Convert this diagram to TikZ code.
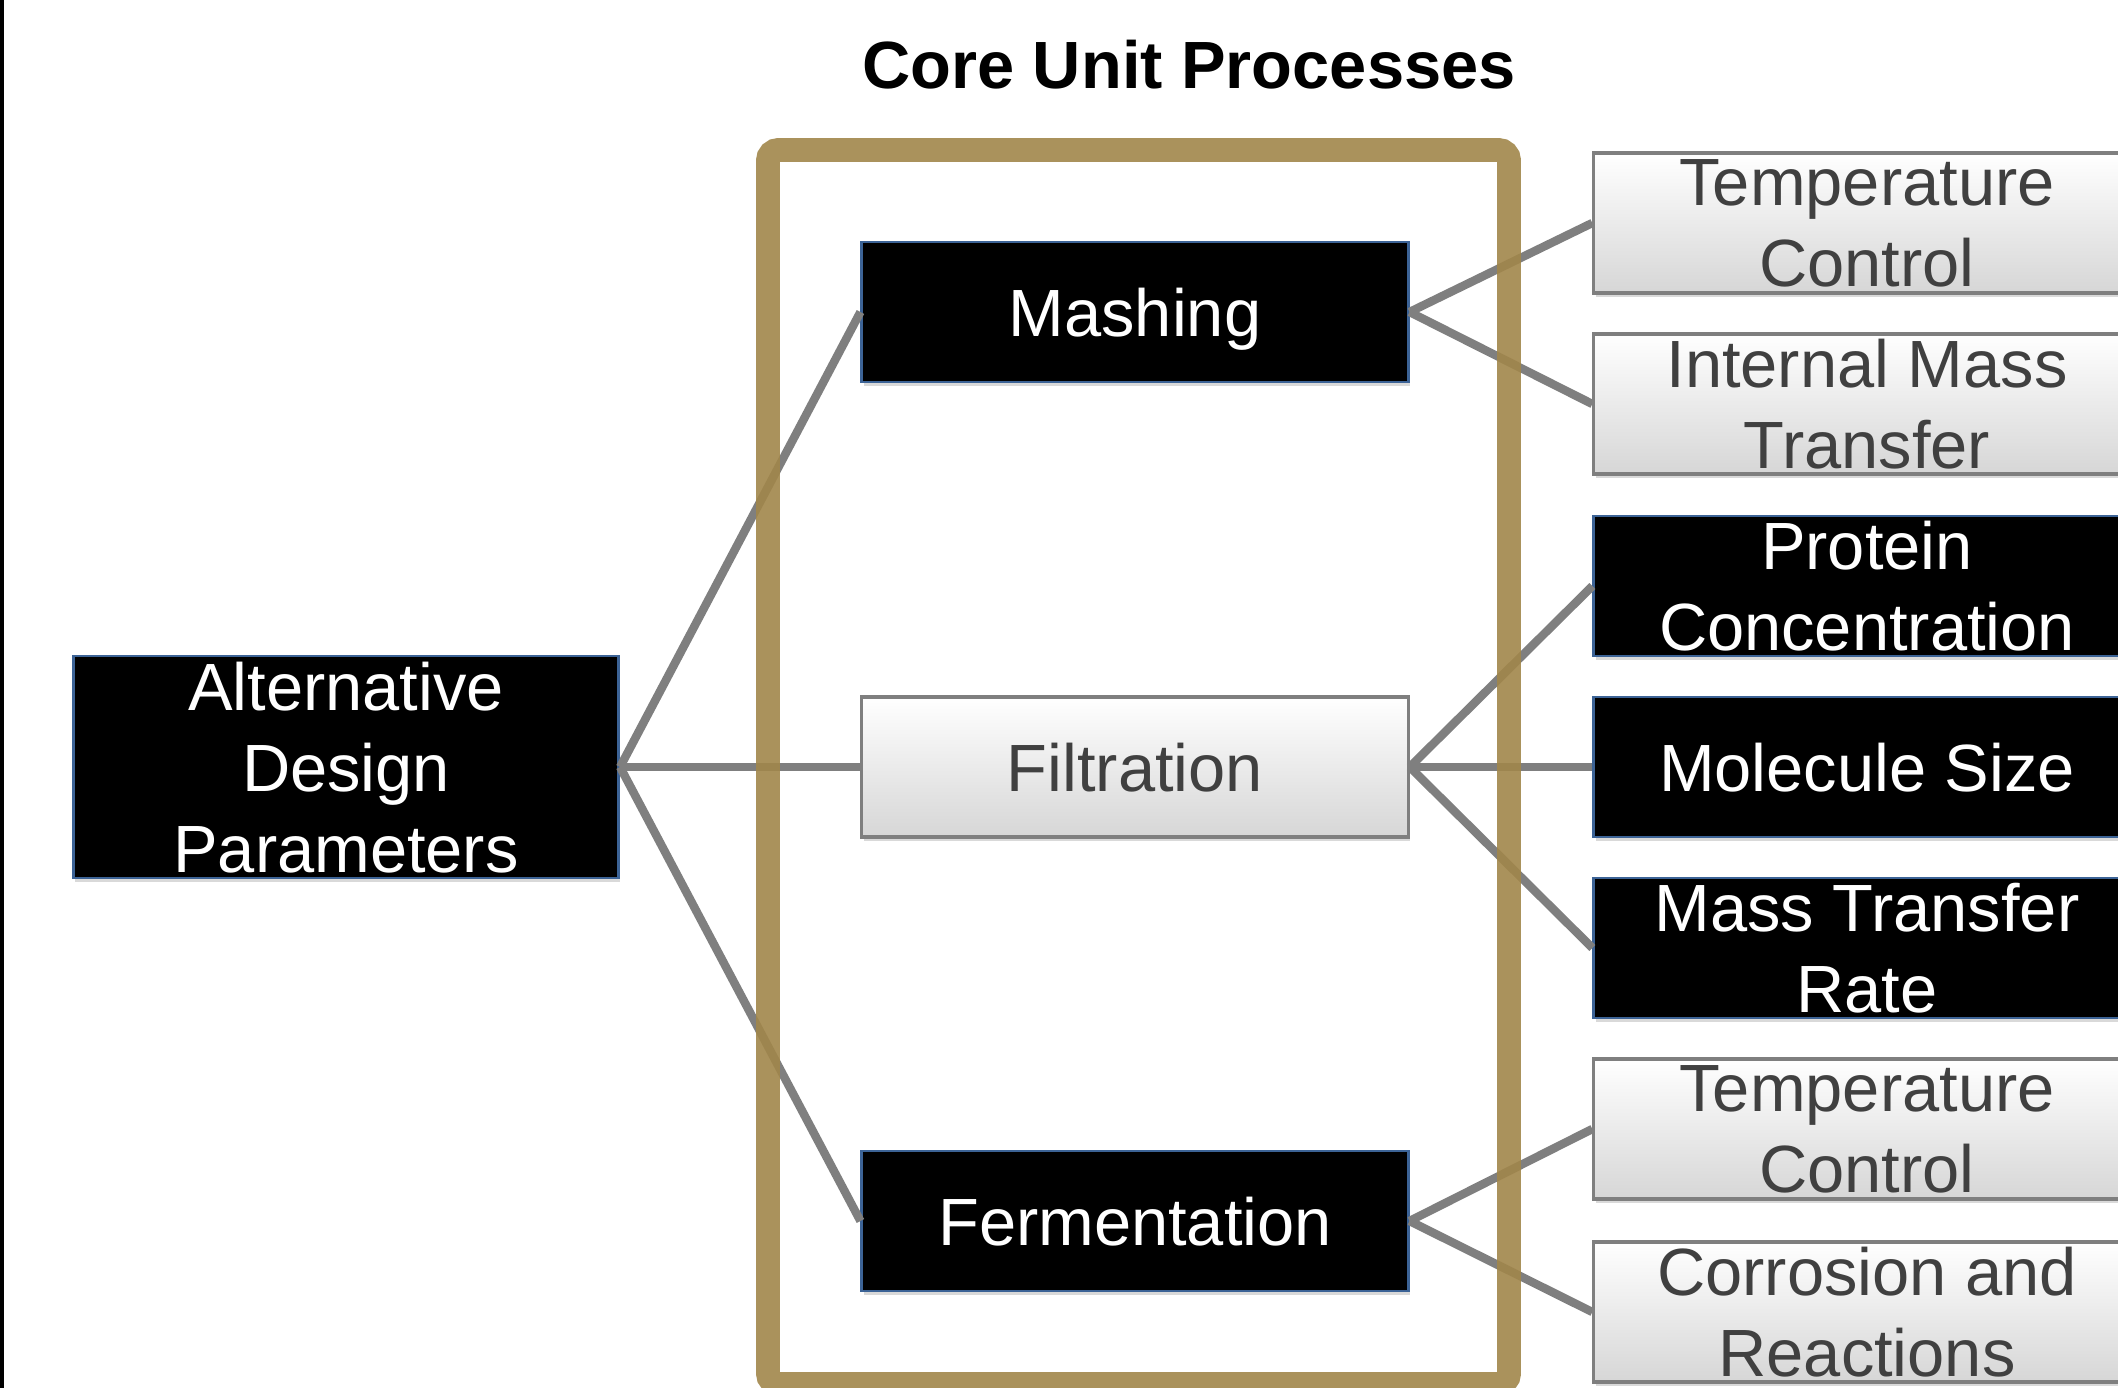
\documentclass[tikz,border=0pt]{standalone}
\usepackage{fontspec}
\setmainfont{Liberation Sans}
\usetikzlibrary{shadows}
\definecolor{frameGold}{RGB}{161,134,74}
\definecolor{linkGray}{RGB}{127,127,127}
\definecolor{edgeBlue}{RGB}{60,99,150}
\definecolor{textGray}{RGB}{64,64,64}

\tikzset{
  box/.style={rectangle, minimum width=5.46cm, minimum height=1.40cm,
    inner xsep=0pt, inner ysep=0pt, align=center, text depth=0pt,
    font=\fontsize{19}{23}\selectfont,
    drop shadow={shadow xshift=0.5pt, shadow yshift=-1.2pt, opacity=0.3}},
  blackbox/.style={box, fill=black, draw=edgeBlue, line width=0.8pt, text=white},
  graybox/.style={box, top color=white, bottom color=black!16,
    draw=linkGray, line width=0.9pt, text=textGray},
  link/.style={draw=linkGray, line width=2.4pt}
}

\begin{document}
\begin{tikzpicture}[x=0.01cm, y=-0.01cm]
    \useasboundingbox (0,0) rectangle (2118,1388);
    \clip (0,0) rectangle (2118,1388);

    % Thin rule at the left edge
    \fill[black] (0,0) rectangle (4,1388);

    % Title
    \node[font=\fontsize{19}{23}\selectfont\bfseries, anchor=base] (title) at (1189,89) {Core Unit Processes};

    % Root node
    \node[blackbox, minimum width=5.45cm, minimum height=2.22cm] (adp) at (346,767) {Alternative\\Design\\Parameters};

    % Core unit processes
    \node[blackbox] (mash) at (1135,312) {Mashing};
    \node[graybox] (filt) at (1135,767) {Filtration};
    \node[blackbox] (ferm) at (1135,1221) {Fermentation};

    % Parameters of each process (right column)
    \node[graybox] (tc1) at (1867,223) {Temperature\\Control};
    \node[graybox] (imt) at (1867,404) {Internal Mass\\Transfer};
    \node[blackbox] (prot) at (1867,586) {Protein\\Concentration};
    \node[blackbox] (msize) at (1867,767) {Molecule Size};
    \node[blackbox] (mtr) at (1867,948) {Mass Transfer\\Rate};
    \node[graybox] (tc2) at (1867,1129) {Temperature\\Control};
    \node[graybox] (corr) at (1867,1312) {Corrosion and\\Reactions};

    % Links from the root
    \draw[link] (adp.east) -- (mash.west);
    \draw[link] (adp.east) -- (filt.west);
    \draw[link] (adp.east) -- (ferm.west);

    % Links from the processes
    \draw[link] (mash.east) -- (tc1.west);
    \draw[link] (mash.east) -- (imt.west);
    \draw[link] (filt.east) -- (prot.west);
    \draw[link] (filt.east) -- (msize.west);
    \draw[link] (filt.east) -- (mtr.west);
    \draw[link] (ferm.east) -- (tc2.west);
    \draw[link] (ferm.east) -- (corr.west);

    % Frame round the core unit processes
    \draw[frameGold, line width=6.8pt, rounded corners=3pt, opacity=0.9] (768,150) rectangle (1509,1384);
\end{tikzpicture}
\end{document}
